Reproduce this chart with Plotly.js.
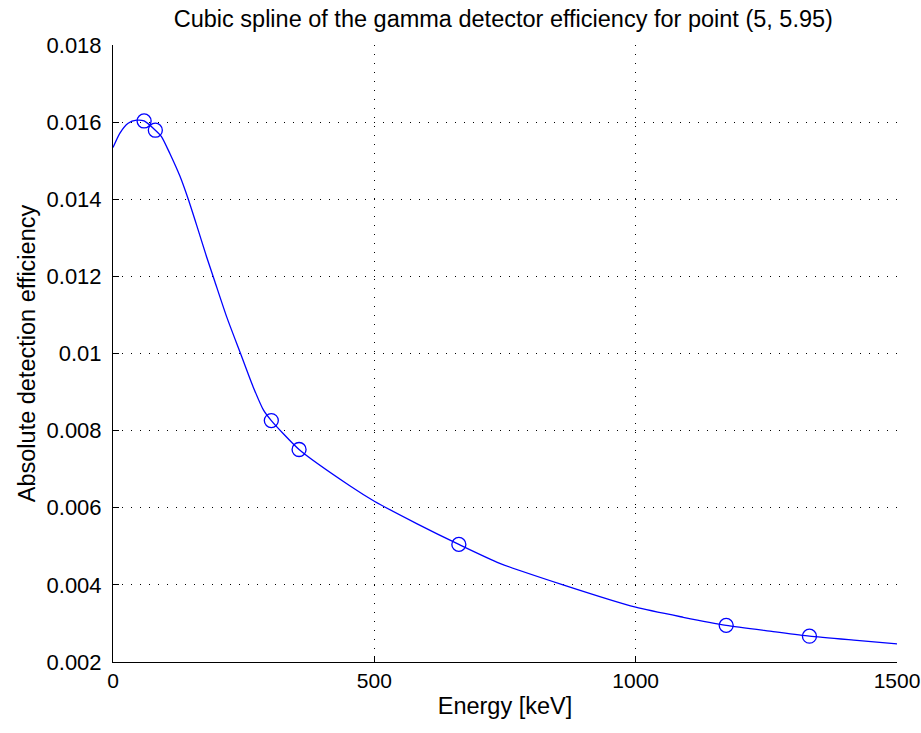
<!DOCTYPE html>
<html>
<head>
<meta charset="utf-8">
<script src="https://cdn.plot.ly/plotly-3.0.1.min.js"></script>
<style>
  html, body { margin: 0; padding: 0; background: #ffffff; }
  #chart { width: 921px; height: 733px; }
</style>
</head>
<body>
<div id="chart"></div>
<script>
// Measured calibration points (energy in keV, absolute efficiency)
const pointEnergy = [59.5, 81.0, 302.9, 356.0, 661.7, 1173.2, 1332.5];
const pointEff    = [0.01603, 0.01579, 0.00826, 0.00751, 0.00505, 0.00295, 0.00267];

const curveEnergy = [0, 13, 29, 45, 59.5, 81, 93, 109, 128, 144, 160, 179, 194, 217.5, 244, 268, 288, 302.9, 356, 453, 500, 581, 661.7, 740, 861, 1000, 1091, 1173.2, 1263, 1332.5, 1423, 1500];
const curveEff    = [0.01534, 0.01571, 0.01597, 0.01605, 0.01603, 0.01579, 0.01562, 0.01518, 0.01460, 0.01400, 0.01333, 0.01251, 0.01190, 0.01095, 0.01000, 0.00914, 0.00853, 0.00826, 0.00751, 0.00657, 0.00617, 0.00559, 0.00505, 0.00456, 0.00400, 0.00342, 0.00316, 0.00295, 0.00279, 0.00267, 0.00256, 0.00247];

// Tick labels
const xTickVals = [0, 500, 1000, 1500];
const xTickText = ['0', '500', '1000', '1500'];
const yTickVals = [0.002, 0.004, 0.006, 0.008, 0.010, 0.012, 0.014, 0.016, 0.018];
const yTickText = ['0.002', '0.004', '0.006', '0.008', '0.01', '0.012', '0.014', '0.016', '0.018'];

const titleText = 'Cubic spline of the gamma detector efficiency for point (5, 5.95)';
const xTitle = 'Energy [keV]';
const yTitle = 'Absolute detection efficiency';

const FONT = '"Liberation Sans", Arial, Helvetica, sans-serif';
const BLUE = '#0000ff';

const traces = [
  {
    x: curveEnergy, y: curveEff,
    type: 'scatter', mode: 'lines',
    line: { color: BLUE, width: 1.3, shape: 'spline', smoothing: 0.6 },
    hoverinfo: 'skip', showlegend: false, cliponaxis: true
  },
  {
    x: pointEnergy, y: pointEff,
    type: 'scatter', mode: 'markers',
    marker: { symbol: 'circle-open', size: 14, color: BLUE, line: { color: BLUE, width: 1.3 } },
    showlegend: false, cliponaxis: false
  }
];

const axisCommon = {
  showline: true, linecolor: '#000000', linewidth: 1,
  ticks: 'inside', ticklen: 6, tickwidth: 1, tickcolor: '#000000',
  showgrid: true, gridcolor: '#000000', gridwidth: 1, griddash: '1px,8px',
  zeroline: false, mirror: false,
  tickmode: 'array'
};

const layout = {
  width: 921, height: 733,
  paper_bgcolor: '#ffffff', plot_bgcolor: '#ffffff',
  margin: { l: 113, r: 24, t: 45, b: 71, pad: 0 },
  title: {
    text: titleText,
    font: { family: FONT, size: 23.5, color: '#000000' },
    x: 0.5465, xanchor: 'center', y: 0.975, yanchor: 'middle'
  },
  xaxis: Object.assign({}, axisCommon, {
    range: [0, 1500],
    tickvals: xTickVals, ticktext: xTickText,
    tickfont: { family: FONT, size: 21, color: '#000000' },
    title: { text: xTitle, font: { family: FONT, size: 23.5, color: '#000000' }, standoff: 6 }
  }),
  yaxis: Object.assign({}, axisCommon, {
    range: [0.002, 0.018],
    tickvals: yTickVals, ticktext: yTickText,
    tickfont: { family: FONT, size: 22, color: '#000000' },
    ticklabelstandoff: 6,
    title: { text: yTitle, font: { family: FONT, size: 23.5, color: '#000000' }, standoff: 4 }
  }),
  showlegend: false
};

Plotly.newPlot('chart', traces, layout, { displayModeBar: false, staticPlot: true });
</script>
</body>
</html>
